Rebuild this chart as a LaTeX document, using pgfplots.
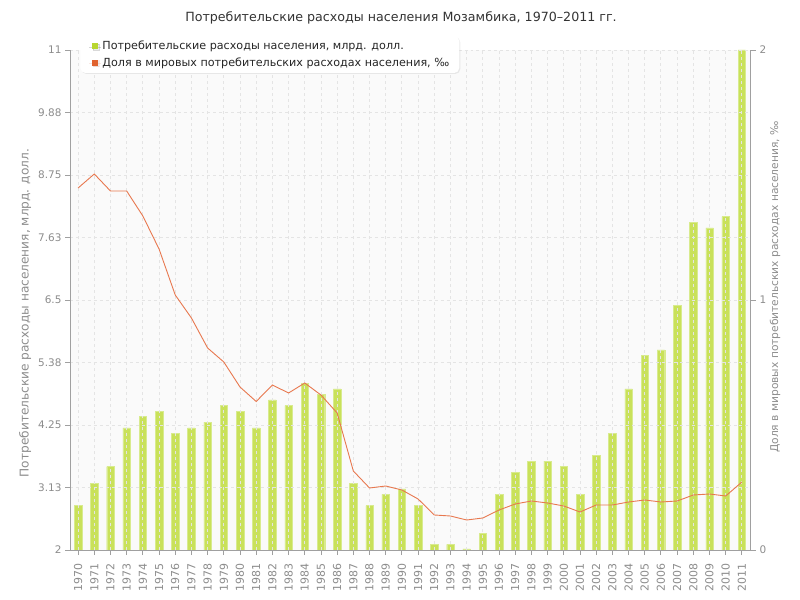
\documentclass[border=0pt]{standalone}
\usepackage{fontspec}
\setmainfont{DejaVu Sans}
\usepackage{pgfplots}
\pgfplotsset{compat=1.18}
\usepackage{pgfplotstable}
\usetikzlibrary{shadows}

\definecolor{barfill}{HTML}{C9E15A}
\definecolor{baredge}{HTML}{D8EB8E}
\definecolor{linec}{HTML}{E8784F}
\definecolor{gridc}{HTML}{E4E4E4}
\definecolor{axisc}{HTML}{A0A0A0}
\definecolor{tickc}{HTML}{8C8C8C}
\definecolor{bgc}{HTML}{FAFAFA}
\definecolor{leggreen}{HTML}{B8D630}
\definecolor{legorange}{HTML}{E0622E}

% consumer spending, bn USD
\pgfplotstableread{
year spend
1970 2.8
1971 3.2
1972 3.5
1973 4.2
1974 4.41
1975 4.5
1976 4.1
1977 4.2
1978 4.3
1979 4.6
1980 4.5
1981 4.2
1982 4.7
1983 4.6
1984 5.0
1985 4.8
1986 4.9
1987 3.2
1988 2.8
1989 3.0
1990 3.1
1991 2.8
1992 2.1
1993 2.1
1994 2.02
1995 2.3
1996 3.0
1997 3.4
1998 3.6
1999 3.6
2000 3.5
2001 3.0
2002 3.7
2003 4.1
2004 4.9
2005 5.5
2006 5.6
2007 6.4
2008 7.9
2009 7.8
2010 8.0
2011 11.0
}\spendtable

% share of world consumer spending, permille
\pgfplotstableread{
year share
1970 1.448
1971 1.504
1972 1.436
1973 1.436
1974 1.336
1975 1.204
1976 1.020
1977 0.928
1978 0.808
1979 0.752
1980 0.652
1981 0.594
1982 0.660
1983 0.628
1984 0.668
1985 0.620
1986 0.548
1987 0.316
1988 0.248
1989 0.256
1990 0.240
1991 0.204
1992 0.140
1993 0.136
1994 0.120
1995 0.128
1996 0.160
1997 0.184
1998 0.196
1999 0.188
2000 0.176
2001 0.152
2002 0.180
2003 0.180
2004 0.192
2005 0.200
2006 0.192
2007 0.196
2008 0.220
2009 0.224
2010 0.216
2011 0.272
}\sharetable

\begin{document}
\begin{tikzpicture}
\useasboundingbox (0,0) rectangle (800bp,600bp);
\fill[bgc] (70bp,50bp) rectangle (750bp,550bp);

\node[font=\fontsize{12.7}{14}\selectfont, text=black!80] at (401bp,582bp)
  {Потребительские расходы населения Мозамбика, 1970–2011 гг.};

\begin{axis}[
    at={(70bp,50bp)}, anchor=south west,
    scale only axis, width=680bp, height=500bp,
    xmin=1969.5, xmax=2011.5, ymin=2, ymax=11,
    axis y line*=left, axis x line*=bottom,
    axis line style={axisc, line width=0.8pt, -},
    xtick={1970,...,2011},
    ytick={2,3.125,4.25,5.375,6.5,7.625,8.75,9.875,11},
    yticklabels={2,3.13,4.25,5.38,6.5,7.63,8.75,9.88,11},
    tick align=outside, major tick length=5bp,
    tick style={axisc, line width=0.8pt},
    grid=major, major grid style={gridc, dashed, line width=0.8pt},
    axis on top,
    /pgf/number format/1000 sep={},
    /pgf/number format/assume math mode=true,
    yticklabel style={font=\fontsize{10.5}{12}\selectfont, text=tickc},
    xticklabel style={font=\fontsize{11}{12}\selectfont, text=tickc,
        rotate=90, anchor=east, xshift=-5bp},
    ylabel={Потребительские расходы населения, млрд. долл.},
    every axis y label/.style={at={(axis description cs:-0.066,0.474)}, rotate=90,
        anchor=center, font=\fontsize{12.2}{14}\selectfont, text=tickc},
]
\addplot[ybar, bar width=7.5bp, fill=barfill, draw=baredge, bar shift=0pt]
    table[x=year, y=spend] {\spendtable};
\end{axis}

\begin{axis}[
    at={(70bp,50bp)}, anchor=south west,
    scale only axis, width=680bp, height=500bp,
    xmin=1969.5, xmax=2011.5, ymin=0, ymax=2,
    axis x line=none, axis y line*=right,
    axis line style={axisc, line width=0.8pt, -},
    ytick={0,1,2},
    tick align=outside, major tick length=6bp,
    tick style={axisc, line width=0.8pt},
    /pgf/number format/assume math mode=true,
    yticklabel style={font=\fontsize{10.5}{12}\selectfont, text=tickc},
    ylabel={Доля в мировых потребительских расходах населения, ‰},
    every axis y label/.style={at={(axis description cs:1.037,0.526)}, rotate=90,
        anchor=center, font=\fontsize{10.7}{12}\selectfont, text=tickc},
    legend style={at={(0.015,1.028)}, anchor=north west,
        draw=none, fill=white, rounded corners=5bp,
        drop shadow={opacity=0.15, shadow xshift=1bp, shadow yshift=-1bp},
        font=\fontsize{11.2}{13}\selectfont, text=black!85,
        inner xsep=8bp, inner ysep=3bp, row sep=2.5bp},
    legend cell align=left,
]
\addlegendimage{legend image code/.code={\path[draw=none] (0bp,0bp) -- (12bp,0bp);
    \fill[leggreen, draw=none, sharp corners] (4bp,-3bp) rectangle (10bp,3bp);}}
\addlegendentry{Потребительские расходы населения, млрд. долл.}
\addplot[linec, line width=0.9pt, legend image code/.code={\path[draw=none] (0bp,0bp) -- (12bp,0bp);
    \fill[legorange, draw=none, sharp corners] (4bp,-3bp) rectangle (10bp,3bp);}]
    table[x=year, y=share] {\sharetable};
\addlegendentry{Доля в мировых потребительских расходах населения, ‰}
\end{axis}
\end{tikzpicture}
\end{document}
